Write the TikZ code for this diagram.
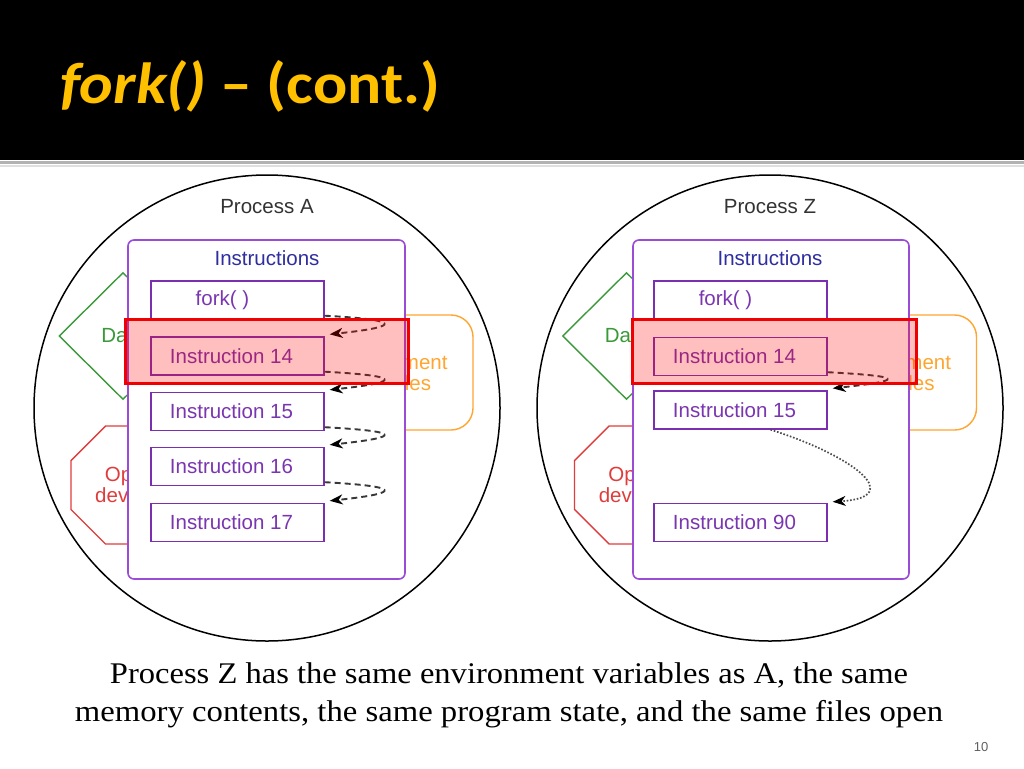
\documentclass[tikz,border=0pt]{standalone}
\usepackage{fontspec}
\usepackage{graphicx}
\setmainfont{Liberation Sans}
\newfontfamily\titlefont{Carlito}
\newfontfamily\capfont{Liberation Serif}
\usetikzlibrary{arrows.meta,shapes.geometric}
\definecolor{titleyellow}{HTML}{FFC000}
\definecolor{boxpurple}{HTML}{9B4BD6}
\definecolor{instpurple}{HTML}{7B2FB0}
\definecolor{txtpurple}{HTML}{7A35B0}
\definecolor{instblue}{HTML}{2E2EA0}
\definecolor{datagreen}{HTML}{3A9A3A}
\definecolor{devred}{HTML}{E03C3C}
\definecolor{envorange}{HTML}{FFA530}
\definecolor{hlred}{HTML}{F00000}
\definecolor{labgray}{HTML}{333333}
\tikzset{
  dfont/.style={font=\fontsize{20.5}{21}\selectfont},
  procc/.style={circle, draw=black, line width=1.5pt, minimum size=466pt, inner sep=0pt},
  proclabel/.style={dfont, text=labgray, inner sep=0pt},
  outerbox/.style={draw=boxpurple, line width=1.6pt, rounded corners=6pt, fill=white, minimum width=277pt, minimum height=339pt, inner sep=0pt},
  instlabel/.style={dfont, text=instblue, inner sep=0pt},
  instbox/.style={draw=instpurple, line width=1.4pt, fill=white, minimum width=173pt, minimum height=38pt, inner sep=0pt, text=txtpurple, dfont},
  datashape/.style={diamond, aspect=1, draw=datagreen, line width=1.4pt, minimum width=128pt, minimum height=127pt, inner sep=0pt, text=datagreen, dfont},
  devshape/.style={regular polygon, regular polygon sides=8, draw=devred, line width=1.4pt, minimum size=127.8pt, inner sep=0pt, text=devred, dfont, align=center},
  envshape/.style={rectangle, rounded corners=22pt, draw=envorange, line width=1.4pt, minimum width=166pt, minimum height=115pt, inner sep=0pt, text=envorange, dfont, align=center},
  hlbox/.style={draw=hlred, line width=3pt, fill=red, fill opacity=0.25, draw opacity=1, minimum height=64pt, inner sep=0pt},
  dasharr/.style={draw=black!78, line width=1.9pt, dash pattern=on 6pt off 4pt, -{Stealth[length=13pt,width=10pt,inset=4pt,black]}},
  dotarr/.style={draw=black!70, line width=1.7pt, dash pattern=on 1.6pt off 1.8pt, -{Stealth[length=13pt,width=10pt,inset=4pt,black]}}
}
\begin{document}
\begin{tikzpicture}[x=1pt,y=-1pt]
\useasboundingbox (0,0) rectangle (1024,768);
\fill[white] (0,0) rectangle (1024,768);
% title band
\fill[black] (0,0) rectangle (1024,160);
\fill[gray!60] (0,161) rectangle (1024,164);
\fill[gray!25] (0,165) rectangle (1024,166.5);
\node[anchor=base west, inner sep=0pt, text=titleyellow] (title) at (60,103)
  {\resizebox{380pt}{\height}{\titlefont\bfseries\fontsize{58}{58}\selectfont\itshape fork()\upshape{} – (cont.)}};

% ---------------- Process A ----------------
\node[procc] (acirc) at (267,408) {};
\node[proclabel] (alab) at (267,207) {Process A};
\node[datashape] (adata) at (123,336) {Data};
\node[devshape] (adev) at (130,485) {Open\\devices};
\node[envshape] (aenv) at (390,372.5) {Environment\\variables};
\node[outerbox] (abox) at (266.5,409.5) {};
\node[instlabel] (ainst) at (267,258) {Instructions};
\node[instbox] (afork) at (237.5,300) {fork( )\kern30pt};
\node[instbox] (a14) at (237.5,356) {Instruction 14\kern12pt};
\node[instbox] (a15) at (237.5,411.5) {Instruction 15\kern12pt};
\node[instbox] (a16) at (237.5,466.5) {Instruction 16\kern12pt};
\node[instbox] (a17) at (237.5,522.5) {Instruction 17\kern12pt};
\draw[dasharr] ([yshift=4pt]afork.south east) .. controls +(75,4) and +(75,-8) .. ([xshift=5pt,yshift=2pt]a14.north east);
\draw[dasharr] ([yshift=4pt]a14.south east) .. controls +(75,4) and +(75,-8) .. ([xshift=5pt,yshift=2pt]a15.north east);
\draw[dasharr] ([yshift=4pt]a15.south east) .. controls +(75,4) and +(75,-8) .. ([xshift=5pt,yshift=2pt]a16.north east);
\draw[dasharr] ([yshift=4pt]a16.south east) .. controls +(75,4) and +(75,-8) .. ([xshift=5pt,yshift=2pt]a17.north east);
\node[hlbox, minimum width=283pt] (ahl) at (266.5,351) {};

% ---------------- Process Z ----------------
\node[procc] (zcirc) at (770,408) {};
\node[proclabel] (zlab) at (770,207) {Process Z};
\node[datashape] (zdata) at (626.5,336) {Data};
\node[devshape] (zdev) at (633.5,485) {Open\\devices};
\node[envshape] (zenv) at (893.5,372.5) {Environment\\variables};
\node[outerbox, minimum width=276pt] (zbox) at (771,409.5) {};
\node[instlabel] (zinst) at (770,258) {Instructions};
\node[instbox] (zfork) at (740.5,300) {fork( )\kern30pt};
\node[instbox] (z14) at (740.5,356.5) {Instruction 14\kern12pt};
\node[instbox] (z15) at (740.5,410) {Instruction 15\kern12pt};
\node[instbox] (z90) at (740.5,522.5) {Instruction 90\kern12pt};
\draw[dasharr] ([yshift=4pt]z14.south east) .. controls +(75,4) and +(75,-8) .. ([xshift=5pt,yshift=2pt]z15.north east);
\draw[dotarr] ([xshift=30pt]z15.south) .. controls +(80,25) and +(75,-5) .. ([xshift=5pt,yshift=1pt]z90.north east);
\node[hlbox, minimum width=284pt] (zhl) at (774,351) {};

% ---------------- caption ----------------
\node[anchor=base, inner sep=0pt] (cap1) at (509,683)
  {\resizebox{798pt}{\height}{\capfont\fontsize{30}{30}\selectfont Process Z has the same environment variables as A, the same}};
\node[anchor=base, inner sep=0pt] (cap2) at (509,721)
  {\resizebox{868pt}{\height}{\capfont\fontsize{30}{30}\selectfont memory contents, the same program state, and the same files open}};
\node[text=gray!75!black, font=\fontsize{13}{13}\selectfont, inner sep=0pt] (pnum) at (981,747) {10};
\end{tikzpicture}
\end{document}
